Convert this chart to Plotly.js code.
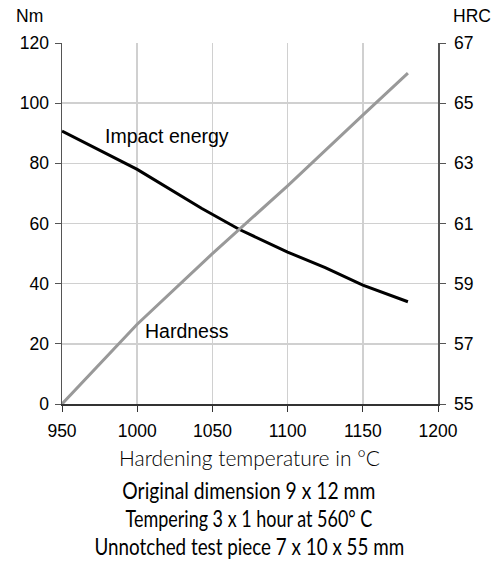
<!DOCTYPE html>
<html>
<head>
<meta charset="utf-8">
<script src="https://cdn.plot.ly/plotly-3.0.1.min.js"></script>
<style>html,body{margin:0;padding:0;background:#fff;}#chart{width:502px;height:565px;}</style>
</head>
<body>
<div id="chart"></div>
<script>
const temperature = [950, 1000, 1043, 1068, 1100, 1125, 1150, 1180];
const impactEnergy = [90.7, 78.0, 65.0, 58.0, 50.5, 45.3, 39.5, 34.0];
const hardnessTemp = [950, 1000, 1050, 1100, 1150, 1180];
const hardnessHRC = [55.0, 57.65, 60.0, 62.25, 64.6, 66.0];
const xTicks = [950, 1000, 1050, 1100, 1150, 1200];
const nmTicks = [0, 20, 40, 60, 80, 100, 120];
const hrcTicks = [55, 57, 59, 61, 63, 65, 67];
const notes = ["Original dimension 9 x 12 mm", "Tempering 3 x 1 hour at 560° C", "Unnotched test piece 7 x 10 x 55 mm"];
const noteWidths = [253, 247, 310];

const tickFont = {family: "Liberation Sans, Arial, sans-serif", size: 17.5, color: "#000"};
const labelFont = {family: "Liberation Sans, Arial, sans-serif", size: 19.5, color: "#000"};
const condFont = {family: "Lato, DejaVu Sans Condensed, sans-serif", size: 23, color: "#000", weight: 400};

const traces = [
  {x: temperature, y: impactEnergy, mode: "lines", line: {color: "#000", width: 3}, yaxis: "y", showlegend: false, hoverinfo: "skip"},
  {x: hardnessTemp, y: hardnessHRC, mode: "lines", line: {color: "#999", width: 3}, yaxis: "y2", showlegend: false, hoverinfo: "skip"}
];

const W = 502, H = 565, L = 62, R = 64, T = 43, B = 161;
const px = x => (x - L) / (W - L - R);
const py = y => (H - B - y) / (H - T - B);

const annotations = [
  {text: "Impact energy", x: 1020, y: 89.0, xref: "x", yref: "y", showarrow: false, xanchor: "center", yanchor: "middle", font: labelFont},
  {text: "Hardness", x: 1033, y: 24.3, xref: "x", yref: "y", showarrow: false, xanchor: "center", yanchor: "middle", font: labelFont},
  {text: "Nm", x: px(29), y: py(16), xref: "paper", yref: "paper", showarrow: false, xanchor: "center", yanchor: "middle", font: tickFont},
  {text: "HRC", x: px(472), y: py(16), xref: "paper", yref: "paper", showarrow: false, xanchor: "center", yanchor: "middle", font: tickFont},
  {text: "Hardening temperature in °C", x: px(249), y: py(458), xref: "paper", yref: "paper", showarrow: false, xanchor: "center", yanchor: "middle", font: {family: "Lato, DejaVu Sans, sans-serif", size: 21, color: "#000", weight: 300}}
];
notes.forEach((t, i) => annotations.push({text: t, x: px(249), y: py(490 + i * 28), xref: "paper", yref: "paper", showarrow: false, xanchor: "center", yanchor: "middle", font: condFont}));

const axisCommon = {showline: true, linewidth: 1.5, ticks: "outside", ticklen: 6, tickfont: tickFont, zeroline: false, fixedrange: true};

const layout = {
  width: W, height: H,
  margin: {l: L, r: R, t: T, b: B, pad: 0},
  paper_bgcolor: "#fff", plot_bgcolor: "#fff",
  xaxis: Object.assign({}, axisCommon, {range: [950, 1200], tickvals: xTicks, showgrid: true, gridcolor: "#d0d0d0", gridwidth: 1.5,
    linecolor: "#333", tickcolor: "#333", ticklabelstandoff: 4}),
  yaxis: Object.assign({}, axisCommon, {range: [0, 120], tickvals: nmTicks, showgrid: true, gridcolor: "#d0d0d0", gridwidth: 1.5,
    linecolor: "#555", tickcolor: "#555", ticklabelstandoff: 2}),
  yaxis2: Object.assign({}, axisCommon, {range: [55, 67], tickvals: hrcTicks, overlaying: "y", side: "right", showgrid: false,
    linecolor: "#555", tickcolor: "#555", ticklabelstandoff: 5}),
  annotations: annotations
};

Plotly.newPlot("chart", traces, layout, {displayModeBar: false, staticPlot: true}).then(gd => {
  // squeeze the note lines horizontally to mimic the condensed typeface
  const texts = gd.querySelectorAll(".annotation-text");
  texts.forEach(el => {
    const idx = notes.indexOf(el.textContent);
    if (idx < 0) return;
    const bb = el.getBBox();
    const s = Math.min(1, noteWidths[idx] / bb.width);
    const cx = bb.x + bb.width / 2;
    el.setAttribute("transform", `translate(${cx},0) scale(${s},1) translate(${-cx},0)`);
  });
});
</script>
</body>
</html>
